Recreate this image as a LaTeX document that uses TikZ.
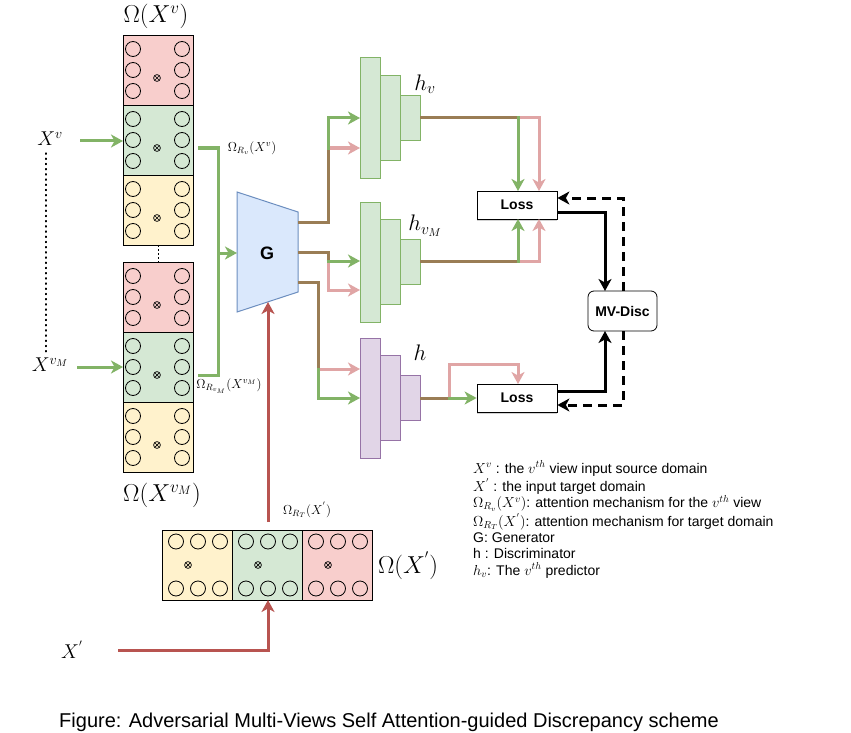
\RequirePackage{fix-cm}
\documentclass[tikz,border=0pt]{standalone}
\usepackage{fontspec}
\setmainfont{Liberation Sans}
\usetikzlibrary{arrows.meta,shadows}
\definecolor{redF}{HTML}{F8CECC}
\definecolor{redS}{HTML}{B85450}
\definecolor{grnF}{HTML}{D5E8D4}
\definecolor{grnS}{HTML}{82B366}
\definecolor{ylwF}{HTML}{FFF2CC}
\definecolor{bluF}{HTML}{DAE8FC}
\definecolor{bluS}{HTML}{6C8EBF}
\definecolor{purF}{HTML}{E1D5E7}
\definecolor{purS}{HTML}{9673A6}
\definecolor{brn}{HTML}{9A7D55}
\definecolor{pinkL}{HTML}{E0A5A5}
\tikzset{
  sect/.style={draw=black, line width=0.8pt, minimum width=70pt, minimum height=70pt, inner sep=0pt, outer sep=0pt},
  dotc/.style={draw=black, line width=0.8pt},
  otm/.style={draw=black, line width=0.7pt},
  gline/.style={grnS, line width=3pt},
  pline/.style={pinkL, line width=3pt},
  bline/.style={brn, line width=3pt},
  rline/.style={redS, line width=3pt},
  kline/.style={black, line width=3pt},
  kdash/.style={black, line width=3pt, dash pattern=on 9pt off 6pt},
  predg/.style={draw=grnS, fill=grnF, line width=1pt, minimum width=20pt, inner sep=0pt, outer sep=0pt},
  predp/.style={draw=purS, fill=purF, line width=1pt, minimum width=20pt, inner sep=0pt, outer sep=0pt},
  lossbox/.style={draw=black, fill=white, line width=0.8pt, minimum width=80pt, minimum height=28pt, inner sep=0pt, font=\fontsize{14}{14}\selectfont\bfseries, drop shadow={shadow xshift=0pt, shadow yshift=-1.5pt, opacity=0.35}},
  discbox/.style={draw=black, fill=white, line width=0.8pt, rounded corners=6pt, minimum width=69pt, minimum height=40pt, inner sep=0pt, font=\fontsize{14}{14}\selectfont\bfseries},
  biglab/.style={font=\fontsize{24.5}{28}\selectfont, inner sep=0pt},
  midlab/.style={font=\fontsize{20}{24}\selectfont, inner sep=0pt},
  hlab/.style={font=\fontsize{22.5}{26}\selectfont, inner sep=0pt},
  smalllab/.style={font=\fontsize{13}{15}\selectfont, inner sep=0pt},
  legl/.style={anchor=base west, inner sep=0pt, font=\fontsize{14}{16}\selectfont},
}
\newcommand\lm[1]{{\fontsize{14.5}{16}\selectfont$#1$}}
\newcommand\myotimes[1]{%
  \draw[otm] (#1) circle[radius=3.4pt];
  \draw[otm] ([shift={(-2.4,-2.4)}]#1) -- ([shift={(2.4,2.4)}]#1);
  \draw[otm] ([shift={(-2.4,2.4)}]#1) -- ([shift={(2.4,-2.4)}]#1);
}
\newcommand\myvsect[3]{%
  \node[sect, fill=#3] (#1) at (#2) {};
  \foreach \dx in {-25,24} \foreach \dy in {-21,0,21}
    \draw[dotc] ([shift={(\dx,\dy)}]#1.center) circle[radius=7.5pt];
  \coordinate (#1x) at ([shift={(-1,8)}]#1.center);
  \myotimes{#1x}
}
\newcommand\myhsect[3]{%
  \node[sect, fill=#3] (#1) at (#2) {};
  \foreach \dx in {-21,1,23} \foreach \dy in {-23.5,23.5}
    \draw[dotc] ([shift={(\dx,\dy)}]#1.center) circle[radius=7.5pt];
  \coordinate (#1x) at ([shift={(-9,0)}]#1.center);
  \myotimes{#1x}
}
\begin{document}
\begin{tikzpicture}[x=1pt,y=-1pt,>={Stealth[length=12pt,width=13pt,inset=3.5pt]}]
\fill[white] (0,0) rectangle (851,733);
\useasboundingbox (0,0) rectangle (851,733);

% left stacks
\myvsect{aR}{158,70}{redF}
\myvsect{aG}{158,140}{grnF}
\myvsect{aY}{158,210}{ylwF}
\myvsect{bR}{158,297}{redF}
\myvsect{bG}{158,367}{grnF}
\myvsect{bY}{158,437}{ylwF}
\draw[line width=0.8pt, dash pattern=on 2pt off 2pt] (aY.south) -- (bR.north);

\node[biglab] (omA) at (156,16) {$\Omega(X^{v})$};
\node[biglab] (omB) at (162,495) {$\Omega(X^{v_M})$};

% inputs
\node[midlab] (xv) at (50,139) {$X^{v}$};
\node[midlab] (xvm) at (50,365) {$X^{v_M}$};
\draw[line width=1.2pt, dash pattern=on 1.2pt off 4pt, line cap=round] (46,153) -- (46,352);
\coordinate (xvs) at (80,141);
\coordinate (xvms) at (77,367);
\draw[gline,->] (xvs) -- (xvs -| aG.west);
\draw[gline,->] (xvms) -- (xvms -| bG.west);

% generator
\draw[draw=bluS, fill=bluF, line width=1pt] (237,192) coordinate (Gtl) -- (298,212) coordinate (Gtr) -- (298,292) coordinate (Gbr) -- (237,312) coordinate (Gbl) -- cycle;
\node[font=\fontsize{18}{18}\selectfont\bfseries] (G) at (267,253) {G};

% attention outputs into G
\coordinate (ga) at (198,148);
\coordinate (gb) at (198,375);
\coordinate (gin) at (237,253);
\draw[gline,->] (ga) -- (218,148) -- (218,253) -- (gin);
\draw[gline] (gb) -- (218,375) -- (218,253);
\node[smalllab] (lA) at (252,148) {$\Omega_{R_v}(X^{v})$};
\node[smalllab] (lB) at (229,386) {$\Omega_{R_{v_M}}(X^{v_M})$};

% target branch
\myhsect{cY}{197,565}{ylwF}
\myhsect{cG}{267,565}{grnF}
\myhsect{cR}{337,565}{redF}
\node[biglab] (omC) at (408,566) {$\Omega(X^{'})$};
\node[midlab] (xt) at (72,650) {$X^{'}$};
\coordinate (xts) at (118,650);
\draw[rline,->] (xts) -- (268,650) -- (268,600);
\coordinate (tout) at (268,522);
\draw[rline,->] (tout) -- (268,302);
\node[smalllab] (lC) at (307,510) {$\Omega_{R_T}(X^{'})$};

% predictors
\node[predg, minimum height=120pt] (p1a) at (370,118) {};
\node[predg, minimum height=85pt] (p1b) at (390,118) {};
\node[predg, minimum height=45pt] (p1c) at (410,118) {};
\node[predg, minimum height=120pt] (p2a) at (370,262) {};
\node[predg, minimum height=85pt] (p2b) at (390,262) {};
\node[predg, minimum height=45pt] (p2c) at (410,262) {};
\node[predp, minimum height=120pt] (p3a) at (370,398) {};
\node[predp, minimum height=85pt] (p3b) at (390,398) {};
\node[predp, minimum height=45pt] (p3c) at (410,398) {};
\node[hlab] (hv) at (425,84) {$h_{v}$};
\node[hlab] (hvm) at (425,226) {$h_{v_M}$};
\node[hlab] (hh) at (420,353) {$h$};

% G to predictors
\draw[bline] (298,222) -- (328,222) -- (328,148);
\draw[pline,->] (328,148) -- (p1a.west |- 0,148);
\draw[gline,->] (328,149.5) -- (328,118) -- (p1a.west);
\draw[bline] (298,252) -- (328,252) -- (328,261);
\draw[pline,->] (328,261) -- (328,290) -- (p2a.west |- 0,290);
\draw[gline,->] (326.5,261) -- (p2a.west |- 0,261);
\draw[bline] (298,282) -- (318,282) -- (318,369);
\draw[pline,->] (318,369) -- (p3a.west |- 0,369);
\draw[gline,->] (318,367.5) -- (318,398) -- (p3a.west);

% losses and disc
\node[lossbox] (L1) at (517,205) {Loss};
\node[lossbox] (L2) at (517,398) {Loss};
\node[discbox] (D) at (622.5,311) {MV-Disc};

\draw[bline] (p1c.east) -- (518,118);
\draw[pline,->] (518,118) -- (539,118) -- (539,191);
\draw[gline,->] (518,116.5) -- (518,191);
\draw[bline] (p2c.east |- 0,261) -- (518,261);
\draw[pline,->] (518,261) -- (539,261) -- (539,219);
\draw[gline,->] (518,262.5) -- (518,219);
\draw[bline] (p3c.east) -- (449,398);
\draw[pline,->] (449,398) -- (449,364) -- (518,364) -- (518,384);
\draw[gline,->] (447.5,398) -- (L2.west);

\draw[kline,->] (L1.east |- 0,212) -- (605,212) -- (605,291);
\draw[kline,->] (L2.east |- 0,391) -- (605,391) -- (605,331);
\draw[kdash,->] (623,291) -- (623,198) -- (L1.east |- 0,198);
\draw[kdash,->] (623,331) -- (623,405) -- (L2.east |- 0,405);

% legend
\node[legl] (leg1) at (473,473) {\lm{X^v} : the \lm{v^{th}} view input source domain};
\node[legl] (leg2) at (473,491.5) {\lm{X^{'}} : the input target domain};
\node[legl] (leg3) at (473,507.5) {\lm{\Omega_{R_v}(X^v)}: attention mechanism for the \lm{v^{th}} view};
\node[legl] (leg4) at (473,526) {\lm{\Omega_{R_T}(X^{'})}: attention mechanism for target domain};
\node[legl] (leg5) at (473,542) {G: Generator};
\node[legl] (leg6) at (473,558.5) {h : Discriminator};
\node[legl] (leg7) at (473,575) {\lm{h_v}: The \lm{v^{th}} predictor};

\node[anchor=base, inner sep=0pt, font=\fontsize{20}{20}\selectfont] (cap) at (389,727) {Figure: Adversarial Multi-Views Self Attention-guided Discrepancy scheme};
\end{tikzpicture}
\end{document}
